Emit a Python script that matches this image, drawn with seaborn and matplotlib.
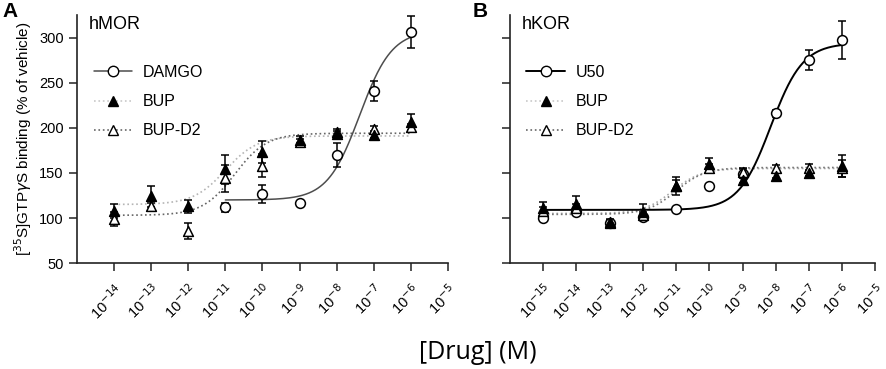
import numpy as np
import pandas as pd
import matplotlib
matplotlib.use("Agg")
import matplotlib.pyplot as plt
import seaborn as sns
from matplotlib.lines import Line2D

sns.set_style("ticks")
plt.rcParams['font.family'] = ['Liberation Sans', 'DejaVu Sans']
plt.rcParams['text.color'] = 'black'
plt.rcParams['axes.labelcolor'] = 'black'
plt.rcParams['xtick.color'] = 'black'
plt.rcParams['ytick.color'] = 'black'

# --- panel A: hMOR (log10 molar) ---
mor_log_dose = [-14, -13, -12, -11, -10, -9, -8, -7, -6]
mor_bup = [108, 124, 113, 154, 173, 187, 193, 192, 206]
mor_bup_err = [8, 12, 7, 16, 12, 4, 4, 3, 9]
mor_bupd2 = [99, 113, 86, 144, 158, 184, 195, 199, 201]
mor_bupd2_err = [8, 4, 9, 15, 13, 4, 4, 3, 3]
damgo_log_dose = [-11, -10, -9, -8, -7, -6]
damgo = [112, 127, 117, 170, 241, 306]
damgo_err = [5, 10, 2, 13, 11, 18]

# --- panel B: hKOR ---
kor_log_dose = [-15, -14, -13, -12, -11, -10, -9, -8, -7, -6]
u50 = [100, 107, 95, 101, 110, 135, 149, 216, 275, 297]
u50_err = [3, 3, 3, 3, 2, 3, 5, 4, 11, 21]
kor_bup = [111, 116, 96, 107, 135, 160, 142, 147, 150, 158]
kor_bup_err = [7, 8, 3, 9, 10, 7, 3, 3, 3, 12]
kor_bupd2 = [108, 111, 95, 103, 136, 155, 151, 155, 156, 155]
kor_bupd2_err = [4, 4, 3, 4, 6, 5, 4, 4, 4, 9]

# fitted curves: bottom, top, logEC50, hill, from, to
fit_damgo = (120, 308, -7.38, 1.0, -11, -6)
fit_mor_bup = (115, 191, -11.0, 1.0, -14, -6)
fit_mor_bupd2 = (103, 194, -10.75, 1.0, -14, -6)
fit_u50 = (109, 294, -8.15, 0.9, -15, -6)
fit_kor_bup = (105, 155, -11.1, 1.0, -15, -6)
fit_kor_bupd2 = (104, 156, -11.0, 1.0, -15, -6)


def curve(p):
    bottom, top, logec50, hill, lo, hi = p
    lx = np.linspace(lo, hi, 300)
    y = bottom + (top - bottom) / (1 + 10 ** ((logec50 - lx) * hill))
    return pd.DataFrame({'conc': 10.0 ** lx, 'resp': y})


def points(ax, log_dose, vals, errs, marker, face):
    conc = 10.0 ** np.array(log_dose, dtype=float)
    ax.errorbar(conc, vals, yerr=errs, fmt='none', ecolor='black',
                elinewidth=1.1, capsize=3.2, capthick=1.1, zorder=3)
    sns.scatterplot(x=conc, y=vals, ax=ax, marker=marker, s=50,
                    facecolor=face, edgecolor='black', linewidth=1.1,
                    zorder=4)


fig = plt.figure(figsize=(8.86, 3.69), dpi=100)
axA = fig.add_axes([0.0869, 0.287, 0.4187, 0.672])
axB = fig.add_axes([0.5756, 0.287, 0.4124, 0.672])

# panel A
for p, c, ls, lw in [(fit_mor_bup, '#b5b5b5', ':', 1.2),
                     (fit_mor_bupd2, '#666666', ':', 1.2),
                     (fit_damgo, '#4d4d4d', '-', 1.1)]:
    d = curve(p)
    sns.lineplot(data=d, x='conc', y='resp', ax=axA, color=c,
                 linestyle=ls, linewidth=lw, zorder=2)
points(axA, damgo_log_dose, damgo, damgo_err, 'o', 'white')
points(axA, mor_log_dose, mor_bupd2, mor_bupd2_err, '^', 'white')
points(axA, mor_log_dose, mor_bup, mor_bup_err, '^', 'black')

# panel B
for p, c, ls, lw in [(fit_kor_bup, '#aaaaaa', ':', 1.2),
                     (fit_kor_bupd2, '#777777', ':', 1.2),
                     (fit_u50, 'black', '-', 1.4)]:
    d = curve(p)
    sns.lineplot(data=d, x='conc', y='resp', ax=axB, color=c,
                 linestyle=ls, linewidth=lw, zorder=2)
points(axB, kor_log_dose, u50, u50_err, 'o', 'white')
points(axB, kor_log_dose, kor_bupd2, kor_bupd2_err, '^', 'white')
points(axB, kor_log_dose, kor_bup, kor_bup_err, '^', 'black')

for ax, lo, title in [(axA, -15, 'hMOR'), (axB, -16, 'hKOR')]:
    ax.set_xscale('log')
    ax.set_xlim(10.0 ** lo, 1e-5)
    ax.set_ylim(50, 325)
    ticks = [10.0 ** k for k in range(lo + 1, -4)]
    ax.set_xticks(ticks)
    ax.set_xticklabels([r'10$^{%d}$' % k for k in range(lo + 1, -4)],
                       rotation=45, ha='right', rotation_mode='anchor',
                       fontsize=10.5)
    ax.minorticks_off()
    ax.set_yticks([50, 100, 150, 200, 250, 300])
    ax.tick_params(axis='both', length=6, width=1.1, color='#222222')
    ax.tick_params(axis='x', pad=7)
    ax.tick_params(axis='y', labelsize=10.5)
    for s in ['left', 'bottom']:
        ax.spines[s].set_linewidth(1.2)
        ax.spines[s].set_color('#222222')
    sns.despine(ax=ax)
    ax.set_xlabel('')
    ax.set_ylabel('')
    ax.text(0.032, 0.995, title, transform=ax.transAxes, fontsize=13,
            va='top', ha='left')

axB.set_yticklabels([])
axA.set_ylabel(r'[$^{35}$S]GTP$\gamma$S binding (% of vehicle)', fontsize=11)

def legend(ax, names, first_color, first_lw):
    handles = [
        Line2D([], [], color=first_color, lw=first_lw, marker='o',
               markerfacecolor='white', markeredgecolor='black', markersize=7.5),
        Line2D([], [], color='#c8c8c8', lw=1.2, ls=':', marker='^',
               markerfacecolor='black', markeredgecolor='black', markersize=7.5),
        Line2D([], [], color='#666666', lw=1.2, ls=':', marker='^',
               markerfacecolor='white', markeredgecolor='black', markersize=7.5),
    ]
    ax.legend(handles, names, loc='upper left', bbox_to_anchor=(0.045, 0.80),
              frameon=False, fontsize=11.5, handlelength=2.4, labelspacing=0.9,
              borderpad=0, borderaxespad=0, handletextpad=0.7)

legend(axA, ['DAMGO', 'BUP', 'BUP-D2'], '#4d4d4d', 1.1)
legend(axB, ['U50', 'BUP', 'BUP-D2'], 'black', 1.4)

fig.text(0.003, 0.995, 'A', fontsize=15, fontweight='bold', va='top', ha='left')
fig.text(0.533, 0.995, 'B', fontsize=15, fontweight='bold', va='top', ha='left')
fig.text(0.539, 0.046, '[Drug] (M)', fontsize=18, ha='center', va='center',
         family=['Open Sans', 'DejaVu Sans'])

fig.savefig('out.png', dpi=100)
